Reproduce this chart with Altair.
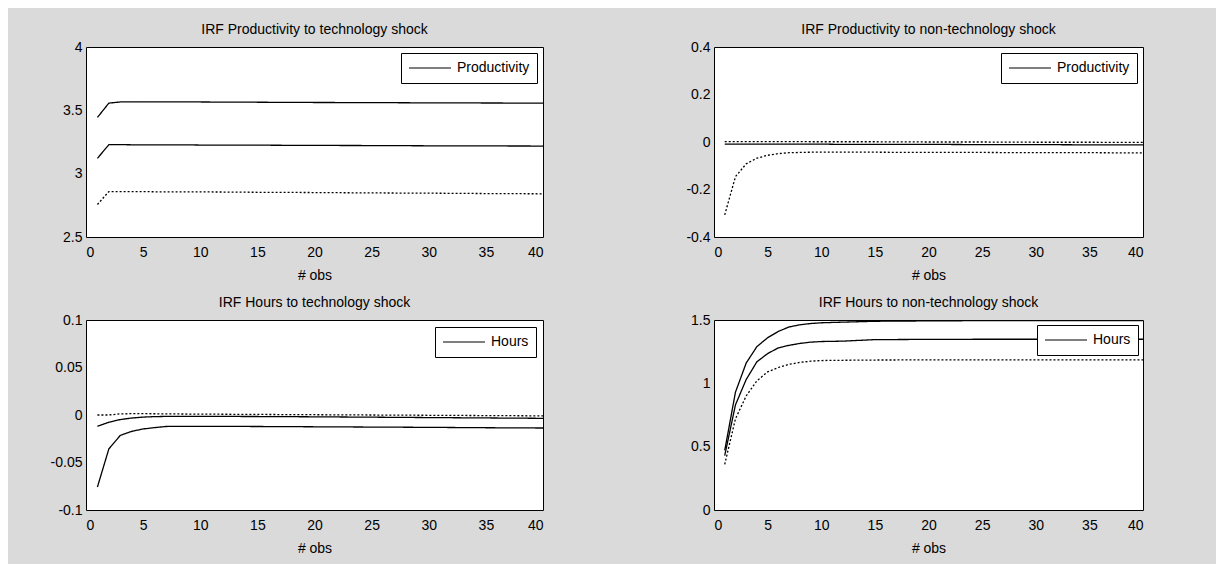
import altair as alt
import pandas as pd

FONT = "Liberation Sans Narrow, Arial Narrow, Liberation Sans, Arial, sans-serif"

x_obs = [1, 2, 3, 4, 5, 6, 7, 8, 9, 10, 12, 15, 20, 25, 30, 35, 40]

# IRF Productivity to technology shock
prod_tech_upper = [3.444, 3.557, 3.566, 3.567, 3.567, 3.567, 3.566, 3.566, 3.566, 3.566, 3.565, 3.564, 3.562, 3.561, 3.559, 3.558, 3.557]
prod_tech_mid = [3.121, 3.229, 3.229, 3.228, 3.228, 3.228, 3.227, 3.227, 3.227, 3.226, 3.226, 3.225, 3.223, 3.222, 3.220, 3.219, 3.218]
prod_tech_lower = [2.757, 2.859, 2.859, 2.858, 2.858, 2.857, 2.857, 2.857, 2.856, 2.856, 2.855, 2.853, 2.851, 2.848, 2.846, 2.843, 2.841]

# IRF Productivity to non-technology shock
prod_nontech_upper = [0.002, 0.002, 0.002, 0.002, 0.002, 0.002, 0.002, 0.002, 0.001, 0.001, 0.001, 0.001, 0.000, 0.000, -0.001, -0.001, -0.002]
prod_nontech_mid = [-0.009, -0.009, -0.009, -0.009, -0.009, -0.009, -0.009, -0.009, -0.009, -0.009, -0.010, -0.010, -0.010, -0.011, -0.011, -0.012, -0.012]
prod_nontech_lower = [-0.307, -0.146, -0.092, -0.068, -0.056, -0.049, -0.045, -0.044, -0.043, -0.043, -0.043, -0.043, -0.044, -0.044, -0.045, -0.045, -0.046]

# IRF Hours to technology shock
hours_tech_upper = [0.0000, 0.0000, 0.0012, 0.0014, 0.0014, 0.0013, 0.0012, 0.0011, 0.0010, 0.0009, 0.0008, 0.0006, 0.0003, 0.0000, -0.0003, -0.0006, -0.0009]
hours_tech_mid = [-0.0119, -0.0076, -0.0048, -0.0032, -0.0022, -0.0017, -0.0015, -0.0014, -0.0014, -0.0014, -0.0015, -0.0016, -0.0019, -0.0023, -0.0027, -0.0031, -0.0035]
hours_tech_lower = [-0.0758, -0.0357, -0.0215, -0.0172, -0.0147, -0.0133, -0.0121, -0.0119, -0.0119, -0.0119, -0.0120, -0.0121, -0.0124, -0.0127, -0.0130, -0.0134, -0.0137]

# IRF Hours to non-technology shock
hours_nontech_upper = [0.47, 0.93, 1.16, 1.29, 1.36, 1.41, 1.445, 1.462, 1.472, 1.478, 1.483, 1.490, 1.493, 1.495, 1.495, 1.495, 1.495]
hours_nontech_mid = [0.43, 0.83, 1.03, 1.17, 1.235, 1.28, 1.30, 1.315, 1.325, 1.33, 1.333, 1.345, 1.347, 1.348, 1.348, 1.348, 1.348]
hours_nontech_lower = [0.36, 0.72, 0.90, 1.02, 1.09, 1.125, 1.15, 1.165, 1.175, 1.18, 1.182, 1.184, 1.185, 1.185, 1.185, 1.185, 1.185]

x_ticks = [0, 5, 10, 15, 20, 25, 30, 35, 40]

SOLID = [1, 0]
DOT = [2, 2]


def panel(title, var_label, upper, mid, lower, ydomain, yticks, width, dashes, loffset):
    rows = []
    for band, vals in (("upper", upper), ("mid", mid), ("lower", lower)):
        for xv, yv in zip(x_obs, vals):
            rows.append({"obs": xv, "value": yv, "band": band, "series": var_label})
    df = pd.DataFrame(rows)
    return (
        alt.Chart(df)
        .mark_line(strokeWidth=1.3, clip=True)
        .encode(
            x=alt.X(
                "obs:Q",
                scale=alt.Scale(domain=[0, 40], nice=False, zero=False),
                axis=alt.Axis(values=x_ticks, title="# obs", labelExpr="toString(datum.value)"),
            ),
            y=alt.Y(
                "value:Q",
                scale=alt.Scale(domain=ydomain, nice=False, zero=False),
                axis=alt.Axis(values=yticks, title=None, labelExpr="toString(datum.value)",
                              minExtent=34, maxExtent=34),
            ),
            strokeDash=alt.StrokeDash(
                "band:N",
                scale=alt.Scale(domain=["upper", "mid", "lower"], range=dashes),
                legend=None,
            ),
            color=alt.Color(
                "series:N",
                scale=alt.Scale(domain=[var_label], range=["black"]),
                legend=alt.Legend(
                    title=None,
                    orient="top-right",
                    offset=loffset,
                    padding=7,
                    clipHeight=16,
                    strokeColor="black",
                    fillColor="white",
                    symbolType="stroke",
                    symbolSize=1764,
                    symbolStrokeWidth=1.2,
                    symbolStrokeColor="black",
                    labelFont=FONT,
                    labelFontSize=14,
                    labelColor="black",
                    labelOffset=5,
                    cornerRadius=0,
                ),
            ),
        )
        .properties(
            width=width,
            height=190,
            title=alt.TitleParams(title, fontSize=14, font=FONT, fontWeight="normal",
                                  color="black", offset=3, frame="group", anchor="middle"),
        )
    )


p1 = panel("IRF Productivity to technology shock", "Productivity",
           prod_tech_upper, prod_tech_mid, prod_tech_lower,
           [2.5, 4], [2.5, 3, 3.5, 4], 457, [SOLID, SOLID, DOT], 6)
p2 = panel("IRF Productivity to non-technology shock", "Productivity",
           prod_nontech_upper, prod_nontech_mid, prod_nontech_lower,
           [-0.4, 0.4], [-0.4, -0.2, 0, 0.2, 0.4], 429, [DOT, SOLID, DOT], 6)
p3 = panel("IRF Hours to technology shock", "Hours",
           hours_tech_upper, hours_tech_mid, hours_tech_lower,
           [-0.1, 0.1], [-0.1, -0.05, 0, 0.05, 0.1], 457, [DOT, SOLID, SOLID], 7)
p4 = panel("IRF Hours to non-technology shock", "Hours",
           hours_nontech_upper, hours_nontech_mid, hours_nontech_lower,
           [0, 1.5], [0, 0.5, 1, 1.5], 429, [SOLID, SOLID, DOT], 5)

row1 = alt.hconcat(p1, p2, spacing=135).resolve_scale(
    x="independent", y="independent", color="independent", strokeDash="independent"
).resolve_legend(color="independent")
row2 = alt.hconcat(p3, p4, spacing=135).resolve_scale(
    x="independent", y="independent", color="independent", strokeDash="independent"
).resolve_legend(color="independent")

chart = (
    alt.vconcat(row1, row2, spacing=12)
    .resolve_scale(x="independent", y="independent", color="independent", strokeDash="independent")
    .resolve_legend(color="independent")
    .properties(padding={"left": 41, "top": 14, "right": 72, "bottom": 8})
    .configure(background="#dadada")
    .configure_view(fill="white", stroke="black", strokeWidth=1)
    .configure_axis(
        labelFont=FONT, titleFont=FONT, labelFontSize=14, titleFontSize=14,
        labelColor="black", titleColor="black", titleFontWeight="normal",
        ticks=False, domain=False, grid=False,
    )
    .configure_axisX(labelPadding=8, titlePadding=9)
    .configure_axisY(labelPadding=4)
)

chart.save("out.html", embed_options={"renderer": "svg", "actions": False})
